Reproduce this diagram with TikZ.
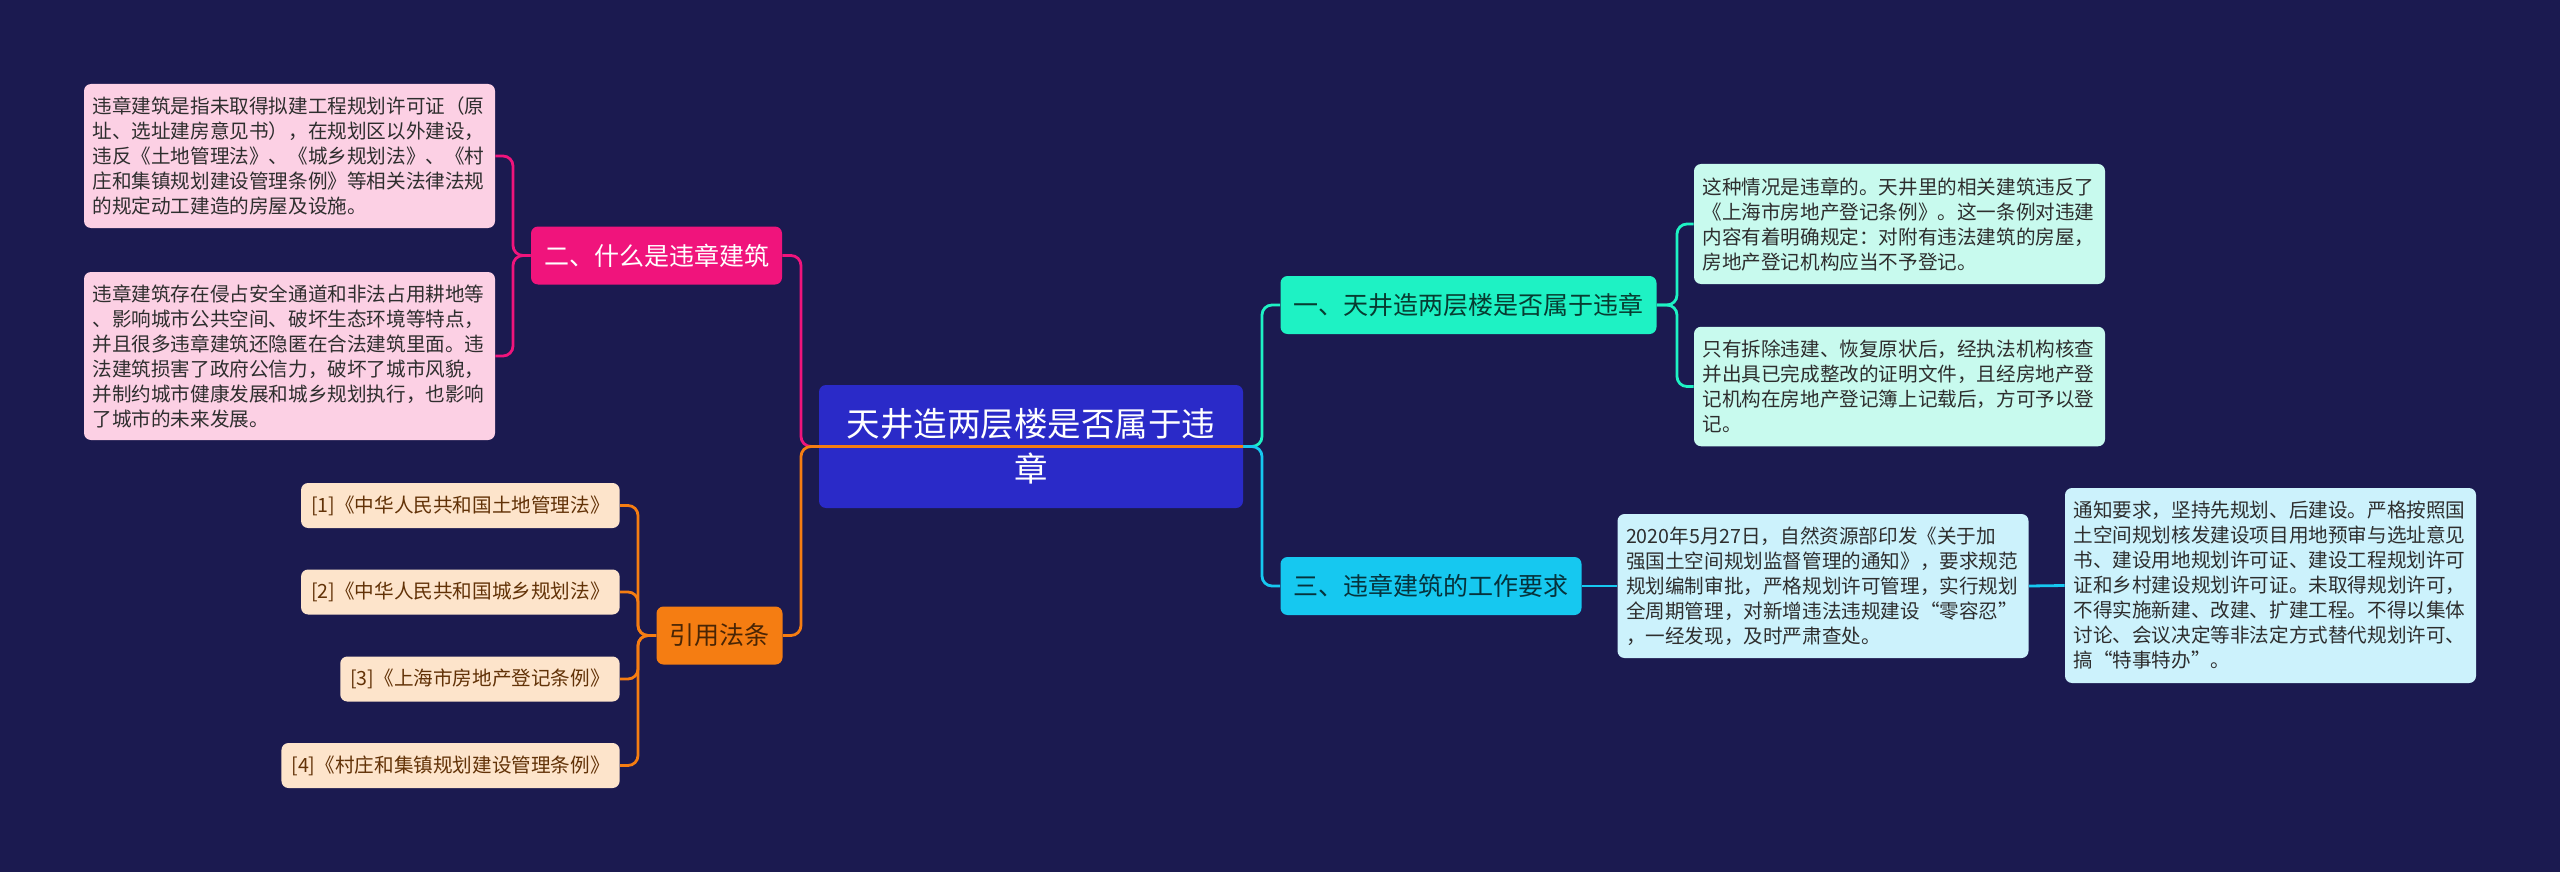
\documentclass[tikz,border=0pt]{standalone}
\usepackage{fontspec}
\setmainfont{Noto Sans CJK SC}
\usepackage{xcolor}
\usetikzlibrary{positioning}

\definecolor{bgc}{HTML}{1B1A50}
\definecolor{rootc}{HTML}{2A2AC8}
\definecolor{tealc}{HTML}{1EF2C4}
\definecolor{cyanc}{HTML}{16C8F0}
\definecolor{pinkc}{HTML}{F0147C}
\definecolor{orangec}{HTML}{F57D12}
\definecolor{pinkl}{HTML}{FCD0E4}
\definecolor{teall}{HTML}{C8FAEE}
\definecolor{cyanl}{HTML}{CCF2FC}
\definecolor{orangel}{HTML}{FDE4CB}
\definecolor{inkc}{HTML}{2E2E2E}

\begin{document}
\begin{tikzpicture}[x=0.5pt, y=-0.5pt,
    topic/.style={rounded corners=3.5pt, inner xsep=6.5pt, minimum height=29pt,
      font=\fontsize{12.5}{15}\selectfont},
    leaf/.style={rounded corners=3.5pt, inner xsep=4.25pt, inner ysep=3pt,
      text width=197pt, align=left, text=inkc,
      font=\fontsize{9.8}{12.5}\selectfont},
    lawref/.style={rounded corners=3.5pt, inner xsep=5pt, minimum height=22.5pt,
      fill=orangel, text=orangec!40!black, anchor=east,
      font=\fontsize{9.8}{12}\selectfont},
    link/.style={line width=1.4pt, rounded corners=5pt}]
  \fill[bgc] (0,0) rectangle (2560,872);

  % root
  \node[fill=rootc, text=white, rounded corners=3.5pt, minimum width=212pt,
    minimum height=61.5pt, align=center, font=\fontsize{16.75}{22.5}\selectfont]
    (root) at (1031,446.5) {天井造两层楼是否属于违\\章};

  % main topics
  \node[topic, fill=tealc, text=tealc!25!black] (b1) at (1468.5,305) {一、天井造两层楼是否属于违章};
  \node[topic, fill=pinkc, text=white] (b2) at (656.5,255.5) {二、什么是违章建筑};
  \node[topic, fill=cyanc, text=cyanc!25!black] (b3) at (1431,586) {三、违章建筑的工作要求};
  \node[topic, fill=orangec, text=orangec!30!black] (b4) at (719.5,635.5) {引用法条};

  % details
  \node[leaf, fill=pinkl, minimum height=72pt] (l21) at (289.5,156)
    {违章建筑是指未取得拟建工程规划许可证（原\\址、选址建房意见书），在规划区以外建设，\\违反《土地管理法》、《城乡规划法》、《村\\庄和集镇规划建设管理条例》等相关法律法规\\的规定动工建造的房屋及设施。};
  \node[leaf, fill=pinkl, minimum height=84pt] (l22) at (289.5,356)
    {违章建筑存在侵占安全通道和非法占用耕地等\\、影响城市公共空间、破坏生态环境等特点，\\并且很多违章建筑还隐匿在合法建筑里面。违\\法建筑损害了政府公信力，破坏了城市风貌，\\并制约城市健康发展和城乡规划执行，也影响\\了城市的未来发展。};
  \node[leaf, fill=teall, minimum height=60pt] (l11) at (1899.5,224)
    {这种情况是违章的。天井里的相关建筑违反了\\《上海市房地产登记条例》。这一条例对违建\\内容有着明确规定：对附有违法建筑的房屋，\\房地产登记机构应当不予登记。};
  \node[leaf, fill=teall, minimum height=59.75pt] (l12) at (1899.5,386.5)
    {只有拆除违建、恢复原状后，经执法机构核查\\并出具已完成整改的证明文件，且经房地产登\\记机构在房地产登记簿上记载后，方可予以登\\记。};
  \node[leaf, fill=cyanl, minimum height=72pt] (l31) at (1823,586)
    {2020年5月27日，自然资源部印发《关于加\\强国土空间规划监督管理的通知》，要求规范\\规划编制审批，严格规划许可管理，实行规划\\全周期管理，对新增违法违规建设“零容忍”\\，一经发现，及时严肃查处。};
  \node[leaf, fill=cyanl, minimum height=97.5pt] (l32) at (2270.5,585.5)
    {通知要求，坚持先规划、后建设。严格按照国\\土空间规划核发建设项目用地预审与选址意见\\书、建设用地规划许可证、建设工程规划许可\\证和乡村建设规划许可证。未取得规划许可，\\不得实施新建、改建、扩建工程。不得以集体\\讨论、会议决定等非法定方式替代规划许可、\\搞“特事特办”。};

  \node[lawref] (l41) at (620,505.5) {[1]《中华人民共和国土地管理法》};
  \node[lawref] (l42) at (620,592) {[2]《中华人民共和国城乡规划法》};
  \node[lawref] (l43) at (620,679) {[3]《上海市房地产登记条例》};
  \node[lawref] (l44) at (620,765.5) {[4]《村庄和集镇规划建设管理条例》};

  % connectors
  \coordinate (ls) at (801,446.5);
  \coordinate (rs) at (1262,446.5);
  \coordinate (s1) at (1677,305);
  \coordinate (s2) at (513,255.5);
  \coordinate (s4) at (638,635.5);

  \draw[link, pinkc] (root.east) -- (ls) |- (b2.east);
  \draw[link, orangec] (root.east) -- (ls) |- (b4.east);
  \draw[link, tealc] (root.east) -- (rs) |- (b1.west);
  \draw[link, cyanc] (root.east) -- (rs) |- (b3.west);

  \draw[link, pinkc] (b2.west) -- (s2) |- (l21.east);
  \draw[link, pinkc] (b2.west) -- (s2) |- (l22.east);
  \draw[link, tealc] (b1.east) -- (s1) |- (l11.west);
  \draw[link, tealc] (b1.east) -- (s1) |- (l12.west);
  \draw[link, cyanc] (b3.east) -- (l31.west);
  \draw[link, cyanc] (l31.east) -- (l32.west);
  \draw[link, orangec] (b4.west) -- (s4) |- (l41.east);
  \draw[link, orangec] (b4.west) -- (s4) |- (l42.east);
  \draw[link, orangec] (b4.west) -- (s4) |- (l43.east);
  \draw[link, orangec] (b4.west) -- (s4) |- (l44.east);
\end{tikzpicture}
\end{document}
